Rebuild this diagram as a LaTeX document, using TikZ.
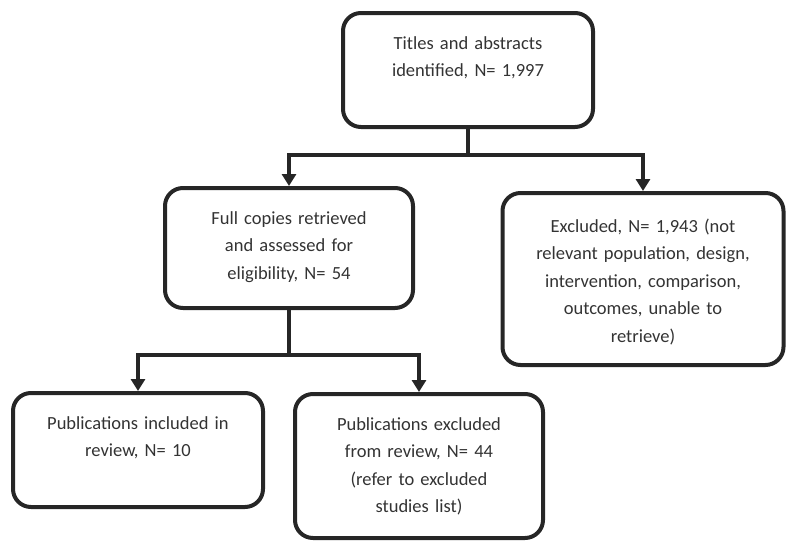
\documentclass[tikz,border=0pt]{standalone}
\usepackage{fontspec}
\setmainfont{Carlito}
\usetikzlibrary{arrows.meta}
\definecolor{linegray}{HTML}{262626}
\definecolor{textgray}{HTML}{333333}

\begin{document}
\begin{tikzpicture}[x=1pt, y=-1pt, >={Triangle[width=14pt,length=12pt]}]
  \tikzstyle{block} = [draw=linegray, line width=4pt, rounded corners=18pt, inner sep=0pt, align=center, text height=36pt, text=textgray, font=\fontsize{18.5}{27.5}\selectfont]
  \tikzstyle{line} = [draw=linegray, line width=3.5pt]
  \useasboundingbox (0,0) rectangle (788,541);

  \node [block, text width=250pt, text depth=78pt] (titles) at (468,70) {Titles and abstracts\\identified, N= 1,997};
  \node [block, text width=248pt, text depth=84pt] (full) at (289,248) {Full copies retrieved\\and assessed for\\eligibility, N= 54};
  \node [block, text width=281pt, text height=39pt, text depth=133pt] (excl) at (643,279) {Excluded, N= 1,943 (not\\relevant population, design,\\intervention, comparison,\\outcomes, unable to\\retrieve)};
  \node [block, text width=250pt, text depth=78pt] (incl) at (138,450) {Publications included in\\review, N= 10};
  \node [block, text width=248pt, text depth=108pt] (excpub) at (419,466) {Publications excluded\\from review, N= 44\\(refer to excluded\\studies list)};

  \draw [line, ->] (titles.south) -- ++(0,26) -| (full.north);
  \draw [line, ->] (titles.south) -- ++(0,26) -| (excl.north);
  \draw [line, ->] (full.south) -- ++(0,45) -| (incl.north);
  \draw [line, ->] (full.south) -- ++(0,45) -| (excpub.north);
\end{tikzpicture}
\end{document}
